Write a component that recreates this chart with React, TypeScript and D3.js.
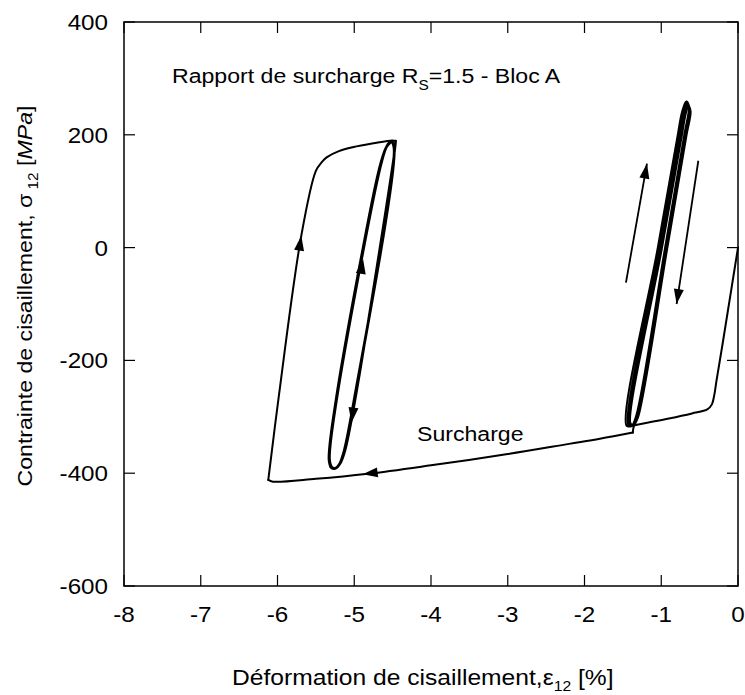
import React from 'react';
import * as d3 from 'd3';

const W = 745;
const H = 695;

const xTicks = [-8, -7, -6, -5, -4, -3, -2, -1, 0];
const yTicks = [-600, -400, -200, 0, 200, 400];

type P = [number, number];

// initial loading from origin to the first block
const loadingPath: P[] = [
  [0, 0], [-0.1, -85], [-0.2, -170], [-0.28, -236], [-0.31, -262], [-0.34, -278],
  [-0.40, -287], [-0.6, -294], [-0.9, -303], [-1.2, -311], [-1.38, -316],
];

// cycles of the first block (right loop)
const rightLoop: P[] = [
  [-1.38, -316],
  [-1.45, -316], [-1.045, 0], [-0.785, 200], [-0.73, 240], [-0.675, 259], [-0.64, 251], [-0.700, 200], [-0.950, 0], [-1.33, -300], [-1.39, -317],
  [-1.43, -314], [-1.025, 0], [-0.765, 200], [-0.71, 240], [-0.665, 256], [-0.632, 248], [-0.690, 200], [-0.940, 0], [-1.32, -300], [-1.38, -315],
  [-1.41, -313], [-1.005, 0], [-0.745, 200], [-0.69, 239], [-0.655, 253], [-0.625, 245], [-0.680, 200], [-0.930, 0], [-1.31, -300], [-1.37, -314],
  [-1.40, -312], [-0.99, 0], [-0.73, 200], [-0.68, 238], [-0.648, 250], [-0.618, 242], [-0.670, 200], [-0.920, 0], [-1.30, -300], [-1.36, -318],
  [-1.37, -328],
];

// overload ("Surcharge")
const surchargePath: P[] = [
  [-1.37, -328], [-1.8, -339], [-2.2, -348], [-3, -366], [-4, -386], [-4.82, -401],
  [-5.5, -410], [-6.06, -415], [-6.12, -412],
];

// reloading after overload
const leftOuter: P[] = [
  [-6.12, -412], [-5.99, -271], [-5.69, 21], [-5.5, 136], [-5.42, 152], [-5.36, 160],
  [-5.2, 171], [-5.02, 178], [-4.75, 185], [-4.5, 190], [-4.46, 189],
];

// cycles of the second block (left loop)
const leftInner: P[] = [
  [-4.46, 189], [-4.47, 175], [-4.99, -271], [-5.12, -360], [-5.18, -382], [-5.24, -391], [-5.29, -389], [-5.32, -376], [-5.23, -271], [-4.66, 142], [-4.58, 178], [-4.52, 189],
  [-4.48, 180], [-5.00, -271], [-5.13, -360], [-5.19, -383], [-5.25, -392], [-5.30, -390], [-5.33, -377], [-5.24, -271], [-4.67, 142], [-4.585, 178], [-4.525, 188],
  [-4.485, 178], [-5.005, -271], [-5.135, -361], [-5.195, -384], [-5.255, -392], [-5.305, -390], [-5.325, -376], [-5.235, -271], [-4.675, 140], [-4.59, 176], [-4.53, 186],
];

// arrowheads sitting on the curves: [from, tip]
const curveArrowFrom: P[] = [[-5.8, -80], [-5.0, -120], [-4.93, -200], [-4.5, -395]];
const curveArrowTip: P[] = [[-5.69, 21], [-4.885, -20], [-5.035, -310], [-4.89, -402]];

// free-standing arrows beside the right loop: [start, tip]
const freeArrowFrom: P[] = [[-1.46, -62], [-0.517, 154]];
const freeArrowTip: P[] = [[-1.186, 149], [-0.80, -100]];

const FONT = '"Liberation Sans", Arial, Helvetica, sans-serif';
const SX = 1.1;

export default function App() {
  const x = d3.scaleLinear().domain([-8, 0]).range([124, 738]);
  const y = d3.scaleLinear().domain([-600, 400]).range([586, 22]);
  const line = d3
    .line<P>()
    .x((d) => x(d[0]))
    .y((d) => y(d[1]))
    .curve(d3.curveCatmullRom.alpha(0.5));

  const arrowHead = (from: P, tip: P, L = 15, Wd = 10) => {
    const tx = x(tip[0]);
    const ty = y(tip[1]);
    const fx = x(from[0]);
    const fy = y(from[1]);
    const dx = tx - fx;
    const dy = ty - fy;
    const len = Math.hypot(dx, dy);
    const ux = dx / len;
    const uy = dy / len;
    const nx = -uy;
    const ny = ux;
    const bx = tx - ux * L;
    const by = ty - uy * L;
    return `M${tx},${ty}L${bx + (nx * Wd) / 2},${by + (ny * Wd) / 2}L${bx - (nx * Wd) / 2},${by - (ny * Wd) / 2}Z`;
  };

  const x0 = x(-8);
  const x1 = x(0);
  const y0 = y(-600);
  const y1 = y(400);
  const tk = 11;

  return (
    <svg
      width={W}
      height={H}
      style={{ position: 'absolute', left: 0, top: 0, background: '#fff' }}
      fontFamily={FONT}
    >
      <rect x={0} y={0} width={W} height={H} fill="#fff" />
      {/* frame */}
      <rect x={x0} y={y1} width={x1 - x0} height={y0 - y1} fill="none" stroke="#000" strokeWidth={1.5} />
      {/* ticks */}
      {xTicks.map((t) => (
        <g key={'xt' + t}>
          <line x1={x(t)} x2={x(t)} y1={y0} y2={y0 - tk} stroke="#000" strokeWidth={1.2} />
          <line x1={x(t)} x2={x(t)} y1={y1} y2={y1 + tk} stroke="#000" strokeWidth={1.2} />
          <text
            transform={`translate(${x(t)},${y0 + 36}) scale(${SX},1)`}
            textAnchor="middle"
            fontSize={22}
          >
            {t}
          </text>
        </g>
      ))}
      {yTicks.map((t) => (
        <g key={'yt' + t}>
          <line x1={x0} x2={x0 + tk} y1={y(t)} y2={y(t)} stroke="#000" strokeWidth={1.2} />
          <line x1={x1} x2={x1 - tk} y1={y(t)} y2={y(t)} stroke="#000" strokeWidth={1.2} />
          <text
            transform={`translate(${x0 - 16},${y(t) + 8}) scale(${SX},1)`}
            textAnchor="end"
            fontSize={22}
          >
            {t}
          </text>
        </g>
      ))}

      {/* curves */}
      <g fill="none" stroke="#000" strokeWidth={2} strokeLinejoin="round" strokeLinecap="round">
        <path d={line(loadingPath) || ''} />
        <path d={line(rightLoop) || ''} strokeWidth={2} />
        <path d={line(surchargePath) || ''} />
        <path d={line(leftOuter) || ''} />
        <path d={line(leftInner) || ''} strokeWidth={2.4} />
      </g>

      {/* arrows on curves */}
      {curveArrowTip.map((t, i) => (
        <path key={'ca' + i} d={arrowHead(curveArrowFrom[i], t)} fill="#000" />
      ))}
      {/* free arrows */}
      {freeArrowTip.map((t, i) => (
        <g key={'fa' + i}>
          <line
            x1={x(freeArrowFrom[i][0])}
            y1={y(freeArrowFrom[i][1])}
            x2={x(t[0])}
            y2={y(t[1])}
            stroke="#000"
            strokeWidth={1.8}
          />
          <path d={arrowHead(freeArrowFrom[i], t)} fill="#000" />
        </g>
      ))}

      {/* annotations */}
      <text transform={`translate(172,83) scale(${SX},1)`} fontSize={21}>
        Rapport de surcharge R
        <tspan fontSize={14} dy={7}>S</tspan>
        <tspan dy={-7}>=1.5 - Bloc A</tspan>
      </text>
      <text transform={`translate(417,441) scale(${SX},1)`} fontSize={21}>
        Surcharge
      </text>

      {/* axis titles */}
      <text transform={`translate(232,685) scale(1.12,1)`} fontSize={22}>
        Déformation de cisaillement,ε
        <tspan fontSize={14} dy={6}>12</tspan>
        <tspan dy={-6}> [%]</tspan>
      </text>
      <text transform={`translate(32,296) rotate(-90) scale(${SX},1)`} fontSize={21} textAnchor="middle">
        Contrainte de cisaillement, σ
        <tspan fontSize={14} dy={6}> 12</tspan>
        <tspan dy={-6}> [</tspan>
        <tspan fontStyle="italic">MPa</tspan>
        <tspan>]</tspan>
      </text>
    </svg>
  );
}
